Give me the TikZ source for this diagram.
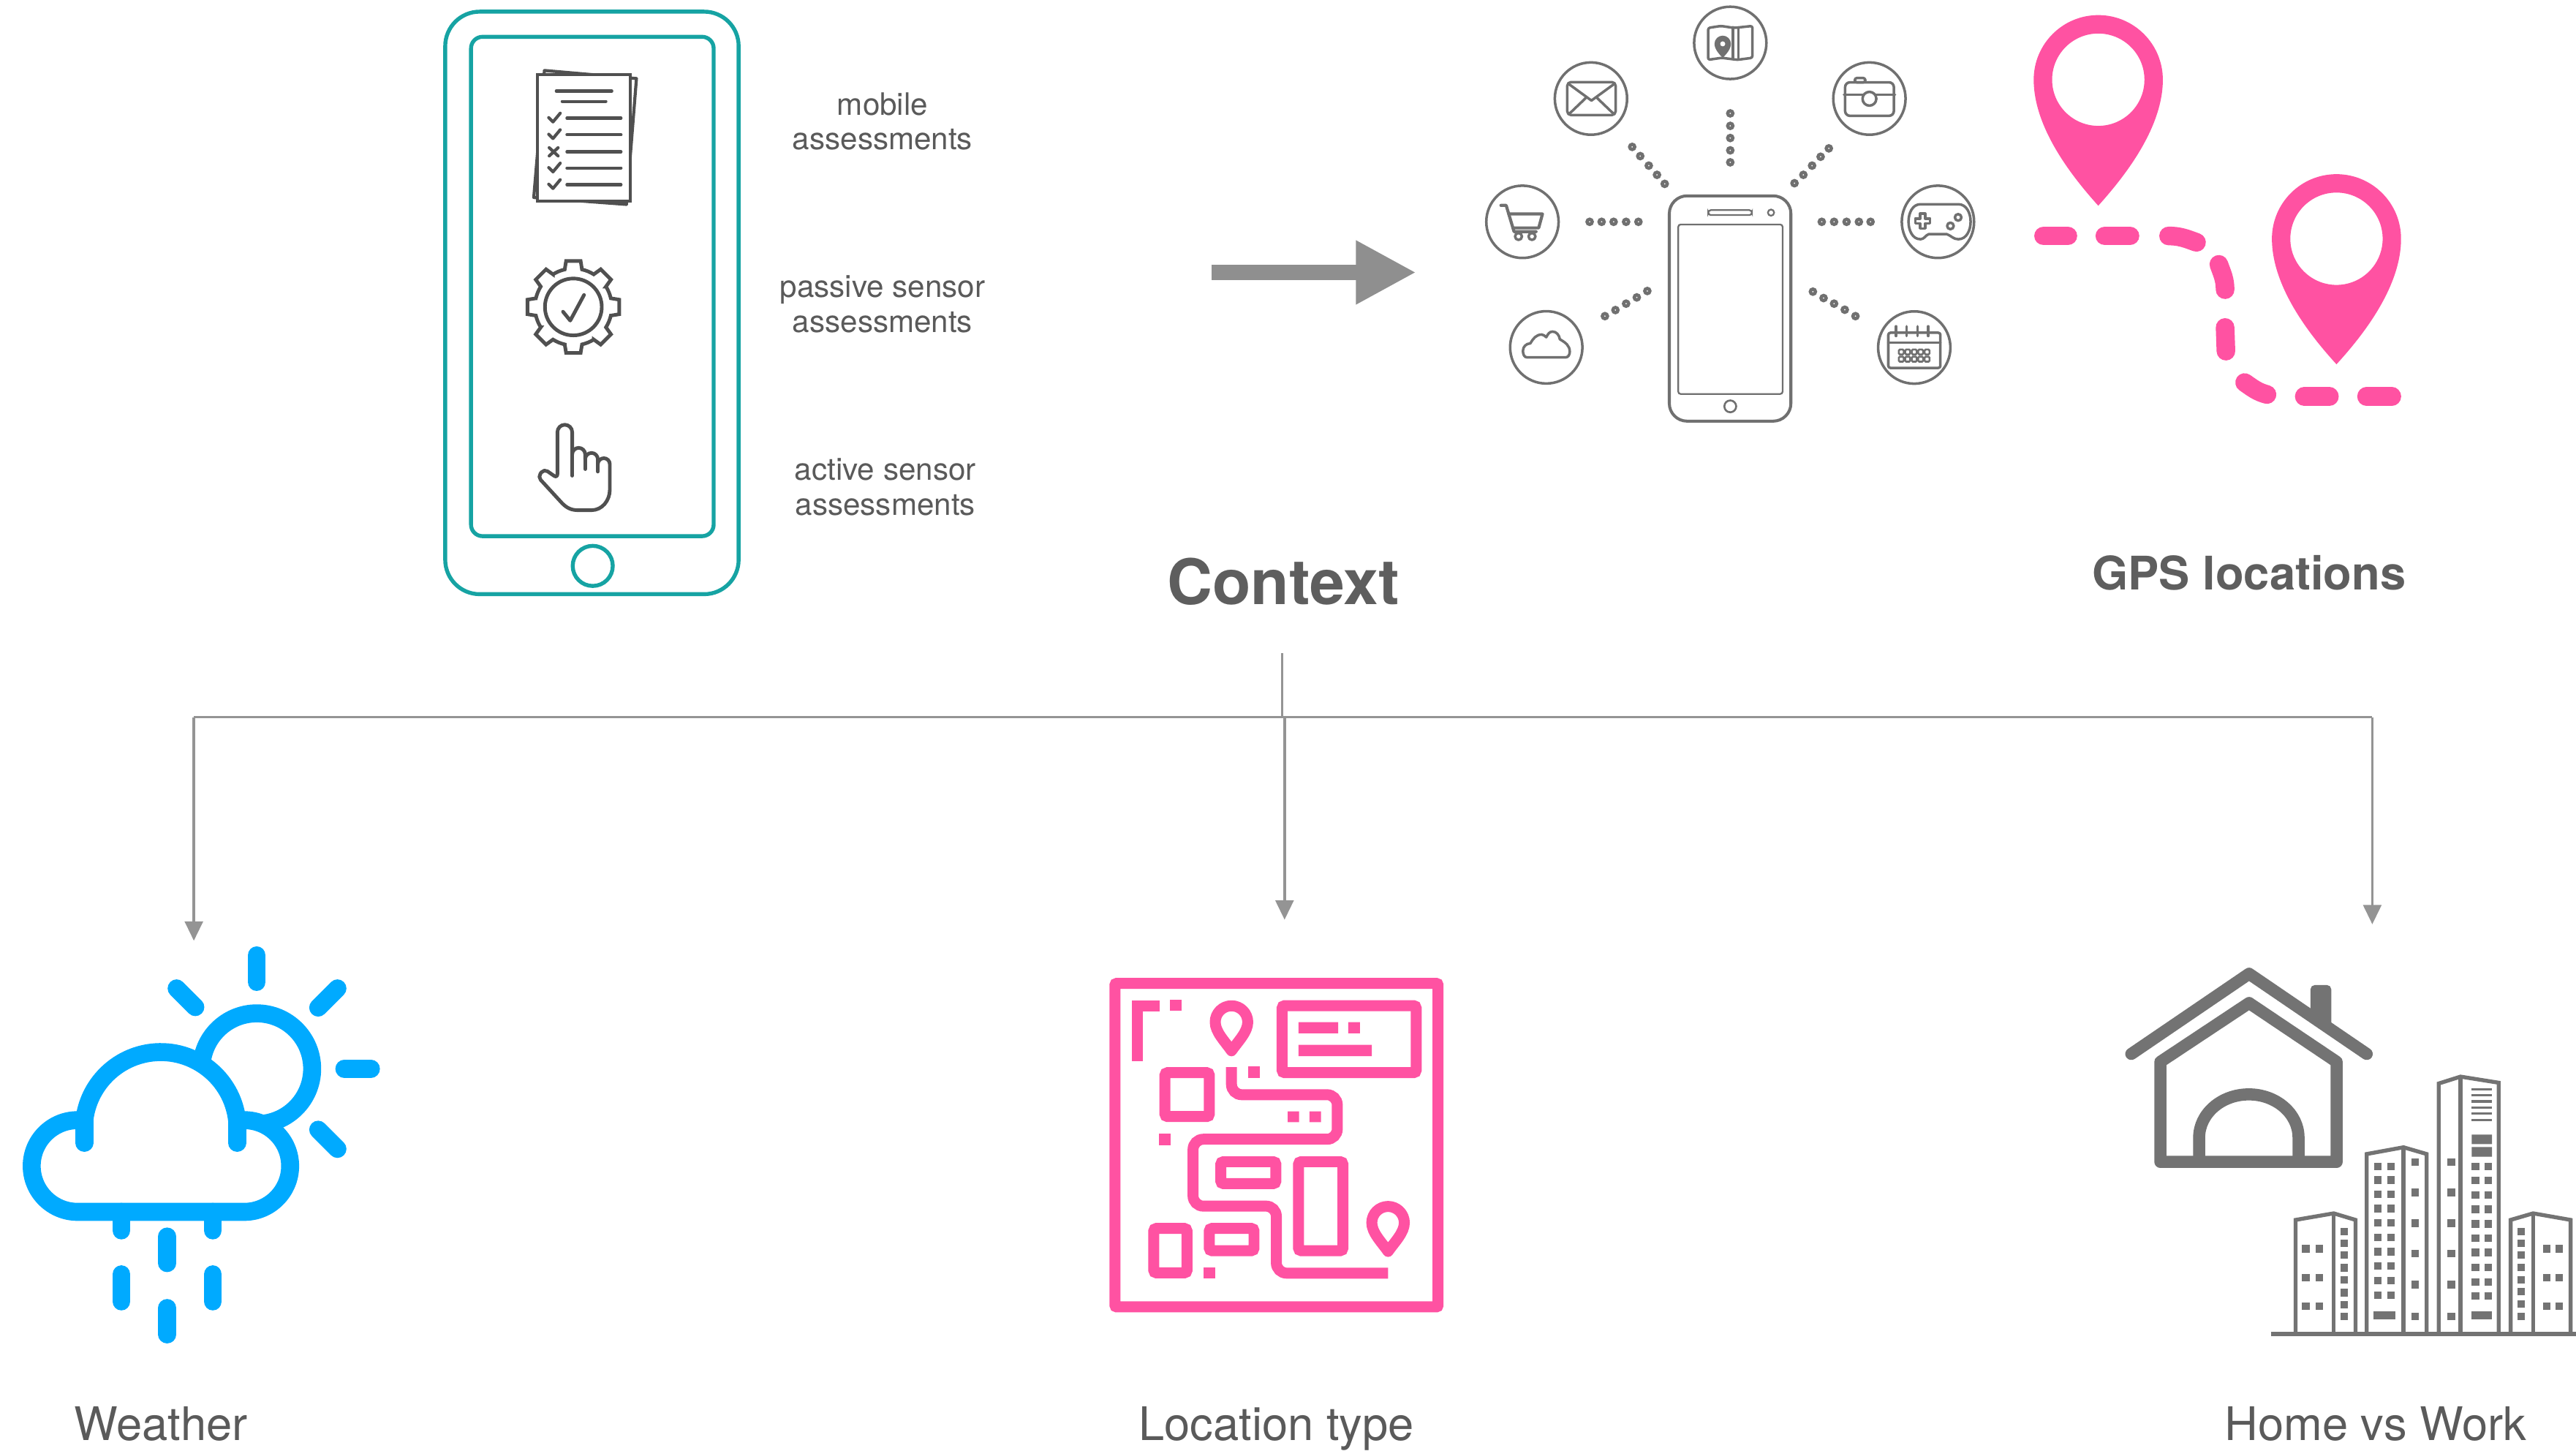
\documentclass[tikz,border=0pt]{standalone}
\usepackage{fontspec}
\setmainfont{TeX Gyre Heros}
\usetikzlibrary{arrows.meta}
\definecolor{tealc}{RGB}{22,163,163}
\definecolor{icondark}{RGB}{80,80,80}
\definecolor{labgray}{RGB}{90,90,90}
\definecolor{headgray}{RGB}{94,94,94}
\definecolor{clgray}{RGB}{112,112,112}
\definecolor{pinkc}{RGB}{255,82,162}
\definecolor{bluec}{RGB}{0,170,255}
\definecolor{homegray}{RGB}{115,115,115}
\definecolor{conngray}{RGB}{148,148,148}
\definecolor{arrgray}{RGB}{143,143,143}
\newcommand\winbox[2]{\fill[homegray] ({#1-2.3},{-#2-2.3}) rectangle ({#1+2.3},{-#2+2.3});}
\begin{document}
\begin{tikzpicture}[x=0.022468cm,y=0.022468cm,
  phoneline/.style={draw=tealc,line width=1.53pt},
  iconline/.style={draw=icondark,line width=1.2pt,line cap=round,line join=round},
  clline/.style={draw=clgray,line width=1pt,line cap=round,line join=round},
  clcircle/.style={draw=clgray,line width=1pt},
  dotring/.style={draw=clgray,line width=1.3pt},
  wx/.style={draw=bluec,line width=7pt,line cap=round,line join=round},
  gpsdash/.style={draw=pinkc,line width=7.26pt,line cap=round},
  mapl/.style={draw=pinkc,line width=4.26pt},
  house/.style={draw=homegray,line width=4.7pt,line cap=round,line join=round},
  bld/.style={draw=homegray,line width=1.53pt,line join=miter},
  conn/.style={draw=conngray,line width=1pt},
  connarrow/.style={conn,-{Triangle[width=7pt,length=7.5pt]}},
  bigarrow/.style={draw=arrgray,line width=5.9pt,-{Triangle[width=23.2pt,length=23.4pt]}},
  lab/.style={text=labgray,font=\fontsize{12}{13.5}\selectfont,align=center,inner sep=0pt},
  caption/.style={text=labgray,font=\fontsize{18}{20}\selectfont,anchor=base,inner sep=0pt},
  heading/.style={text=headgray,font=\bfseries\fontsize{24.4}{28}\selectfont,anchor=base,inner sep=0pt},
  subheading/.style={text=headgray,font=\bfseries\fontsize{18}{20}\selectfont,anchor=base,inner sep=0pt}]

\useasboundingbox (0,0) rectangle (1568,-882.6);
\fill[white] (0,0) rectangle (1568,-882.6);

% ---------- assessment phone ----------
\draw[phoneline,rounded corners=13.4pt] (271.0,-7.1) rectangle (449.6,-361.6);
\draw[phoneline,rounded corners=4.5pt] (286.7,-22.4) rectangle (434.4,-326.3);
\draw[phoneline] (360.8,-344.4) circle[radius=12.2];

% checklist sheets
\draw[iconline,fill=white] (331.4,-42.9) -- (387.4,-47.8) -- (381.3,-124.4) -- (324.9,-120.2) -- cycle;
\draw[iconline,fill=white,line join=miter] (327.3,-45.5) rectangle (383.7,-122.5);
\draw[iconline] (338.6,-55.4) -- (372.4,-55.4) (342.2,-61.7) -- (368.8,-61.7);
\foreach \y in {71.9,82.0,92.4,102.3,112.4} \draw[iconline] (345.1,-\y) -- (378.0,-\y);
\foreach \y in {71.9,82.0,102.3,112.4} \draw[iconline] (334.0,-\y+0.3) -- (336.6,-\y-2.3) -- (341.0,-\y+3.0);
\draw[iconline] (334.3,-89.9) -- (339.7,-94.9) (334.3,-94.9) -- (339.7,-89.9);

% gear with check
\begin{scope}[shift={(349.0,-186.8)}]
  \draw[iconline,line width=1.4pt,line join=miter] (-13:23.4)
    \foreach \a in {0,45,...,315} { -- ({\a-13}:23.4) -- ({\a-9}:28.3) -- ({\a+9}:28.3) -- ({\a+13}:23.4)
      arc[start angle={\a+13},end angle={\a+32},radius=23.4] } -- cycle;
  \draw[iconline,line width=1.4pt] (0,0) circle[radius=17.3];
  \draw[iconline,line width=1.4pt] (-6.3,-2.9) -- (-1.9,-8.3) -- (6.5,7.3);
\end{scope}

% pointing hand
\draw[iconline,line width=1.4pt] (339.3,-291.0) -- (339.3,-263) arc[start angle=180,end angle=0,radius=4.5]
  -- (348.3,-276.5) arc[start angle=180,end angle=0,radius=3.95]
  -- (356.2,-279.5) arc[start angle=180,end angle=0,radius=3.85]
  -- (363.9,-282.5) arc[start angle=180,end angle=0,radius=3.65]
  -- (371.2,-298) to[out=-90,in=0] (360,-310.5) -- (352,-310.5) to[out=180,in=-45] (342.2,-306.3)
  [rounded corners=1.6pt] -- (327.4,-290.2) -- (331.2,-285.4) -- cycle;
\draw[iconline,line width=1.4pt] (348.3,-276.5) -- (348.3,-289.5) (356.2,-279.5) -- (356.2,-285.5) (363.9,-282.5) -- (363.9,-287);

% labels
\node[lab] (mobile) at (537.2,-73.9) {mobile\\assessments};
\node[lab] (passive) at (537.2,-185.1) {passive sensor\\assessments};
\node[lab] (active) at (538.9,-296.3) {active sensor\\assessments};

% ---------- transition arrow ----------
\coordinate (arrowstart) at (737.4,-165.8);
\coordinate (arrowend) at (862.0,-165.8);
\draw[bigarrow] (arrowstart) -- (arrowend);

% ---------- phone with apps ----------
\draw[draw=clgray,line width=1.15pt,rounded corners=6.9pt] (1016.1,-119.2) rectangle (1090.1,-256.3);
\draw[draw=clgray,line width=0.65pt,rounded corners=1pt] (1021.5,-136.6) rectangle (1085.1,-239.8);
\draw[draw=clgray,line width=0.65pt,rounded corners=1pt] (1039.8,-127.9) rectangle (1066.4,-130.9);
\draw[draw=clgray,line width=0.65pt] (1078.0,-129.4) circle[radius=1.9];
\draw[draw=clgray,line width=0.75pt] (1053.2,-247.3) circle[radius=3.6];

\foreach \x/\y in {1053.2/26.1,968.4/60.0,1137.9/60.0,926.7/135.0,1179.6/135.0,941.2/211.4,1165.2/211.5}
  \draw[clcircle] (\x,-\y) circle[radius=22];

\foreach \x/\y in {1053.2/69.0,1053.2/76.6,1053.2/84.0,1053.2/91.5,1053.2/98.8,
  967.6/135.0,974.9/135.0,982.2/135.0,989.8/135.0,997.3/135.0,
  1108.9/135.0,1116.4/135.0,1124.0/135.0,1131.5/135.0,1138.6/135.0,
  993.5/89.4,998.4/95.0,1003.6/100.8,1008.6/106.4,1013.3/111.9,
  1113.2/90.3,1108.2/95.4,1103.0/100.8,1097.7/106.4,1092.3/111.5,
  1002.7/177.1,996.3/181.0,989.8/184.8,983.3/188.7,976.9/192.4,
  1103.5/177.5,1110.0/181.4,1116.4/184.8,1122.9/188.5,1129.4/192.4}
  \draw[dotring] (\x,-\y) circle[radius=1.55];

% folded map
\draw[clline,rounded corners=0.8pt] (1039.7,-17.0) -- (1047.5,-15.8) -- (1055.5,-17.0) -- (1066.7,-15.8)
  -- (1066.7,-35.2) -- (1057.5,-36.4) -- (1048.0,-35.2) -- (1039.7,-36.4) -- cycle;
\draw[clline] (1054.8,-16.6) -- (1054.8,-35.8) (1058.1,-16.8) -- (1058.1,-36.2);
\fill[clgray,even odd rule] (1043.6,-26.7) arc[start angle=180,end angle=0,radius=5]
  .. controls (1053.6,-29.8) and (1050.8,-33) .. (1048.6,-35.2)
  .. controls (1046.4,-33) and (1043.6,-29.8) .. cycle (1048.6,-26.7) circle[radius=1.6];

% envelope
\draw[clline,rounded corners=1.4pt] (954.0,-50.0) rectangle (983.4,-70.0);
\draw[clline] (955.0,-51.2) -- (968.7,-61.2) -- (982.4,-51.2);
\draw[clline] (955.5,-69.0) -- (965.3,-59.6) (981.9,-69.0) -- (972.1,-59.6);

% camera
\draw[clline,rounded corners=0.8pt] (1129.0,-50.1) rectangle (1135.4,-47.5);
\draw[clline,rounded corners=1.9pt] (1123.1,-50.1) rectangle (1152.8,-70.5);
\draw[clline] (1122.4,-57.6) -- (1153.5,-57.6);
\draw[clline,fill=white] (1137.9,-60.1) circle[radius=4.2];

% shopping cart
\draw[clline,line width=1.2pt] (913.6,-125.0) -- (916.8,-125.0) -- (921.6,-141.0) -- (935.0,-141.0);
\draw[clline,line width=1.2pt] (918.4,-130.2) -- (938.9,-130.2) -- (936.6,-138.7) -- (920.9,-138.7);
\draw[clline,fill=white] (924.3,-143.9) circle[radius=2.1] (932.5,-143.9) circle[radius=2.1];

% game pad
\draw[clline] (1169,-124.3) -- (1192,-124.3) to[out=0,in=90] (1199.5,-134.9) to[out=-90,in=0] (1192,-145.6)
  to[out=180,in=-20] (1185,-142.5) -- (1174,-142.5) to[out=200,in=0] (1169,-145.6)
  to[out=180,in=-90] (1161.7,-134.9) to[out=90,in=180] cycle;
\draw[clline] (1168.8,-130) -- (1171.8,-130) -- (1171.8,-133) -- (1174.8,-133) -- (1174.8,-136) -- (1171.8,-136)
  -- (1171.8,-139) -- (1168.8,-139) -- (1168.8,-136) -- (1165.8,-136) -- (1165.8,-133) -- (1168.8,-133) -- cycle;
\draw[clline] (1187.2,-137.5) circle[radius=2] (1191.9,-132.3) circle[radius=2];

% cloud service
\draw[clline] (929.5,-217.5) -- (953,-217.5) to[out=0,in=-90] (955.5,-214) to[out=90,in=-30] (949.5,-206.5)
  to[out=100,in=0] (945,-201.8) to[out=180,in=60] (941.2,-205.2) to[out=150,in=0] (938.5,-203.6)
  to[out=180,in=60] (931.5,-209) to[out=180,in=90] (927,-213.5) to[out=-90,in=180] cycle;

% calendar
\draw[clline,rounded corners=0.8pt] (1149.4,-202.5) rectangle (1181.1,-223.9);
\draw[clline] (1149.4,-208.6) -- (1181.1,-208.6);
\foreach \x in {1154.1,1160.6,1167.2,1173.7} \draw[clline] (\x,-198.6) -- (\x,-204.5);
\foreach \x in {1157.3,1161.2,1165.2,1169.1,1173.0}
  \foreach \y in {214.2,218.6}
    \draw[draw=clgray,line width=0.75pt,rounded corners=0.4pt] ({\x-1.5},{-\y-1.5}) rectangle ({\x+1.5},{-\y+1.5});

% ---------- GPS pins ----------
\fill[pinkc,even odd rule] (1237.9,-48.5) arc[start angle=180,end angle=0,radius=39.3]
  .. controls (1316.5,-78.5) and (1292.2,-108.5) .. (1277.2,-125.2)
  .. controls (1262.2,-108.5) and (1237.9,-78.5) .. cycle
  (1277.2,-48.5) circle[radius=28.1];
\fill[pinkc,even odd rule] (1382.9,-145.3) arc[start angle=180,end angle=0,radius=39.3]
  .. controls (1461.5,-175.3) and (1437.2,-205.3) .. (1422.2,-221.7)
  .. controls (1407.2,-205.3) and (1382.9,-175.3) .. cycle
  (1422.2,-145.3) circle[radius=28.1];
\draw[gpsdash] (1243.9,-143.6) -- (1258.7,-143.6);
\draw[gpsdash] (1281.2,-143.6) -- (1296.5,-143.6);
\draw[gpsdash] (1320.0,-143.6) to[out=0,in=160] (1337.0,-147.5);
\draw[gpsdash] (1350.6,-160.9) to[out=-70,in=90] (1354.4,-176.3);
\draw[gpsdash] (1354.4,-199.3) -- (1354.9,-213.7);
\draw[gpsdash] (1366.3,-232.8) to[out=-35,in=165] (1379.9,-240.1);
\draw[gpsdash] (1402.6,-241.3) -- (1417.9,-241.3);
\draw[gpsdash] (1440.5,-241.3) -- (1455.9,-241.3);

% ---------- headings ----------
\node[heading] (context) at (781.1,-367.8) {Context};
\node[subheading] (gps) at (1369,-359) {GPS locations};

% ---------- connector tree ----------
\coordinate (ctxdrop) at (780.5,-397.5);
\coordinate (hub) at (780.5,-436.5);
\coordinate (hubleft) at (118,-436.5);
\coordinate (hubmid) at (781.9,-436.5);
\coordinate (hubright) at (1444,-436.5);
\coordinate (weathertip) at (118,-572.5);
\coordinate (loctip) at (781.9,-559.7);
\coordinate (hometip) at (1444,-562.5);
\draw[conn] (ctxdrop) -- (hub);
\draw[conn] (hubleft) -- (hubright);
\draw[connarrow] (hubleft) -- (weathertip);
\draw[connarrow] (hubmid) -- (loctip);
\draw[connarrow] (hubright) -- (hometip);

% ---------- weather ----------
\draw[wx] (156.3,-650.4) circle[radius=33.7];
\draw[wx,fill=white] (47.2,-681.7) arc[start angle=90,end angle=270,radius=27.9] -- (148.7,-737.5)
  arc[start angle=-90,end angle=90,radius=27.9] -- (144.3,-681.6)
  arc[start angle=6.7,end angle=173.3,radius=46.8] -- cycle;
\draw[wx] (51.3,-682) -- (51.3,-695.5) (144.3,-682) -- (144.3,-695.5);
\draw[wx] (156.3,-581.4) -- (156.3,-597.6);
\draw[wx] (107.5,-601.5) -- (118.9,-612.9);
\draw[wx] (205.4,-601.5) -- (193.7,-613.2);
\draw[wx] (209.6,-650.4) -- (225.8,-650.4);
\draw[wx] (193.7,-687.5) -- (205.4,-699.2);
\draw[wx] (73.9,-737.5) -- (73.9,-748.8) (129.6,-737.5) -- (129.6,-748.8);
\draw[wx] (101.8,-752.5) -- (101.8,-768.7) (101.8,-796.0) -- (101.8,-812.1);
\draw[wx] (73.9,-775.5) -- (73.9,-792.0) (129.6,-775.5) -- (129.6,-792.0);

% ---------- location map ----------
\draw[mapl,rounded corners=0.6pt] (678.7,-598.5) rectangle (875.3,-795.3);
\draw[mapl] (705.7,-612.0) -- (692.1,-612.0) -- (692.1,-645.9);
\fill[pinkc] (712.1,-608.6) rectangle (719.1,-615.3);
\draw[mapl,line join=round] (739.7,-622.0) arc[start angle=180,end angle=0,radius=9.9]
  .. controls (759.5,-628) and (753.8,-633.5) .. (749.6,-639.5) .. controls (745.4,-633.5) and (739.7,-628) .. cycle;
\draw[mapl,rounded corners=1pt] (780.4,-612.0) rectangle (862.0,-652.8);
\fill[pinkc] (790.4,-622.0) rectangle (814.5,-628.8) (820.7,-622.0) rectangle (827.8,-628.8)
  (790.4,-635.8) rectangle (835.0,-642.7);
\draw[mapl,rounded corners=1pt] (709.1,-652.8) rectangle (736.1,-679.5);
\fill[pinkc] (759.7,-649.1) rectangle (766.7,-656.1);
\draw[mapl,rounded corners=4pt] (749.6,-649.4) |- (814.0,-666.2) |- (726.2,-693.3) |- (776.9,-734.0) |- (844.9,-774.8);
\fill[pinkc] (783.8,-676.3) rectangle (790.7,-682.9) (797.1,-676.3) rectangle (804.1,-682.9);
\fill[pinkc] (705.4,-689.9) rectangle (712.4,-696.9);
\draw[mapl,rounded corners=1pt] (743.1,-707.0) rectangle (776.6,-720.3);
\draw[mapl,rounded corners=1pt] (790.4,-707.0) rectangle (817.4,-761.1);
\draw[mapl,line join=round] (835.0,-744.1) arc[start angle=180,end angle=0,radius=9.9]
  .. controls (854.8,-750.1) and (849.1,-755.6) .. (844.9,-761.6) .. controls (840.7,-755.6) and (835.0,-750.1) .. cycle;
\draw[mapl,rounded corners=1pt] (702.3,-747.6) rectangle (722.5,-774.6);
\draw[mapl,rounded corners=1pt] (736.1,-747.6) rectangle (763.3,-761.1);
\fill[pinkc] (732.6,-771.5) rectangle (739.7,-778.2);

% ---------- home and office ----------
\fill[homegray] (1406.4,-616) -- (1406.4,-602) arc[start angle=180,end angle=90,radius=2.5]
  -- (1416.5,-599.5) arc[start angle=90,end angle=0,radius=2.5] -- (1419,-625) -- cycle;
\draw[house] (1297.3,-641.4) -- (1369.0,-592.6) -- (1440.6,-641.4);
\draw[house] (1315.0,-707.1) -- (1315.0,-646.2) -- (1369.0,-610.4) -- (1422.3,-646.2) -- (1422.3,-707.1) -- cycle;
\draw[house] (1338.6,-707.1) -- (1338.6,-692.3) arc[start angle=180,end angle=0,x radius=30.25,y radius=26.3] -- (1399.1,-707.1);

\draw[bld] (1397.3,-810.7) -- (1397.3,-742.4) -- (1420.5,-738.4) -- (1433.8,-742.4) -- (1433.8,-810.7);
\draw[bld] (1420.5,-738.4) -- (1420.5,-810.7);
\draw[bld] (1440.6,-810.7) -- (1440.6,-702.3) -- (1463.0,-698.2) -- (1477.1,-702.3) -- (1477.1,-810.7);
\draw[bld] (1463.0,-698.2) -- (1463.0,-810.7);
\draw[bld] (1484.4,-810.7) -- (1484.4,-659.4) -- (1497.7,-655.2) -- (1520.9,-658.9) -- (1520.9,-810.7);
\draw[bld] (1497.7,-655.2) -- (1497.7,-810.7);
\draw[bld] (1528.2,-810.7) -- (1528.2,-742.4) -- (1541.9,-738.4) -- (1564.7,-742.4) -- (1564.7,-810.7);
\draw[bld] (1541.9,-738.4) -- (1541.9,-810.7);
\draw[draw=homegray,line width=1.85pt] (1382.2,-811.8) -- (1568,-811.8);

\foreach \y in {759.9,777.4,794.8} {\winbox{1403.6}{\y}\winbox{1411.9}{\y}}
\foreach \y in {749.5,756.7,763.8,771.5,778.9,786.6,794.0,801.2} {\winbox{1427.0}{\y}}
\foreach \y in {709.8,718.2,726.8,735.5,744.3,753.0,761.8,770.5,779.3,788.2} {\winbox{1447.25}{\y}\winbox{1455.45}{\y}}
\fill[homegray] (1444.8,-797.9) rectangle (1457.9,-802.9);
\foreach \y in {707.1,725.7,744.4,763.0,781.8,801.2} {\winbox{1470.05}{\y}\winbox{1492.15}{\y}}
\foreach \y in {662.9,666.5,670.3,674.0,677.7,681.6} \draw[draw=homegray,line width=1pt] (1504.5,-\y) -- (1516.9,-\y);
\fill[homegray] (1504.5,-690.5) rectangle (1516.9,-696.3) (1504.5,-698.1) rectangle (1516.9,-703.9);
\foreach \y in {709.8,718.5,727.3,736.0,744.8,753.5,762.2,771.3,780.1,788.8} {\winbox{1506.75}{\y}\winbox{1514.5}{\y}}
\fill[homegray] (1504.5,-797.9) rectangle (1516.9,-802.9);
\foreach \y in {749.5,756.7,763.8,771.3,778.9,786.1,793.6,801.2} {\winbox{1534.55}{\y}}
\foreach \y in {759.9,777.4,794.8} {\winbox{1550.15}{\y}\winbox{1557.85}{\y}}

% ---------- captions ----------
\node[caption] (weather) at (98,-876.5) {Weather};
\node[caption] (loctype) at (777,-876.5) {Location type};
\node[caption] (homework) at (1446,-876.5) {Home vs Work};

\end{tikzpicture}
\end{document}
